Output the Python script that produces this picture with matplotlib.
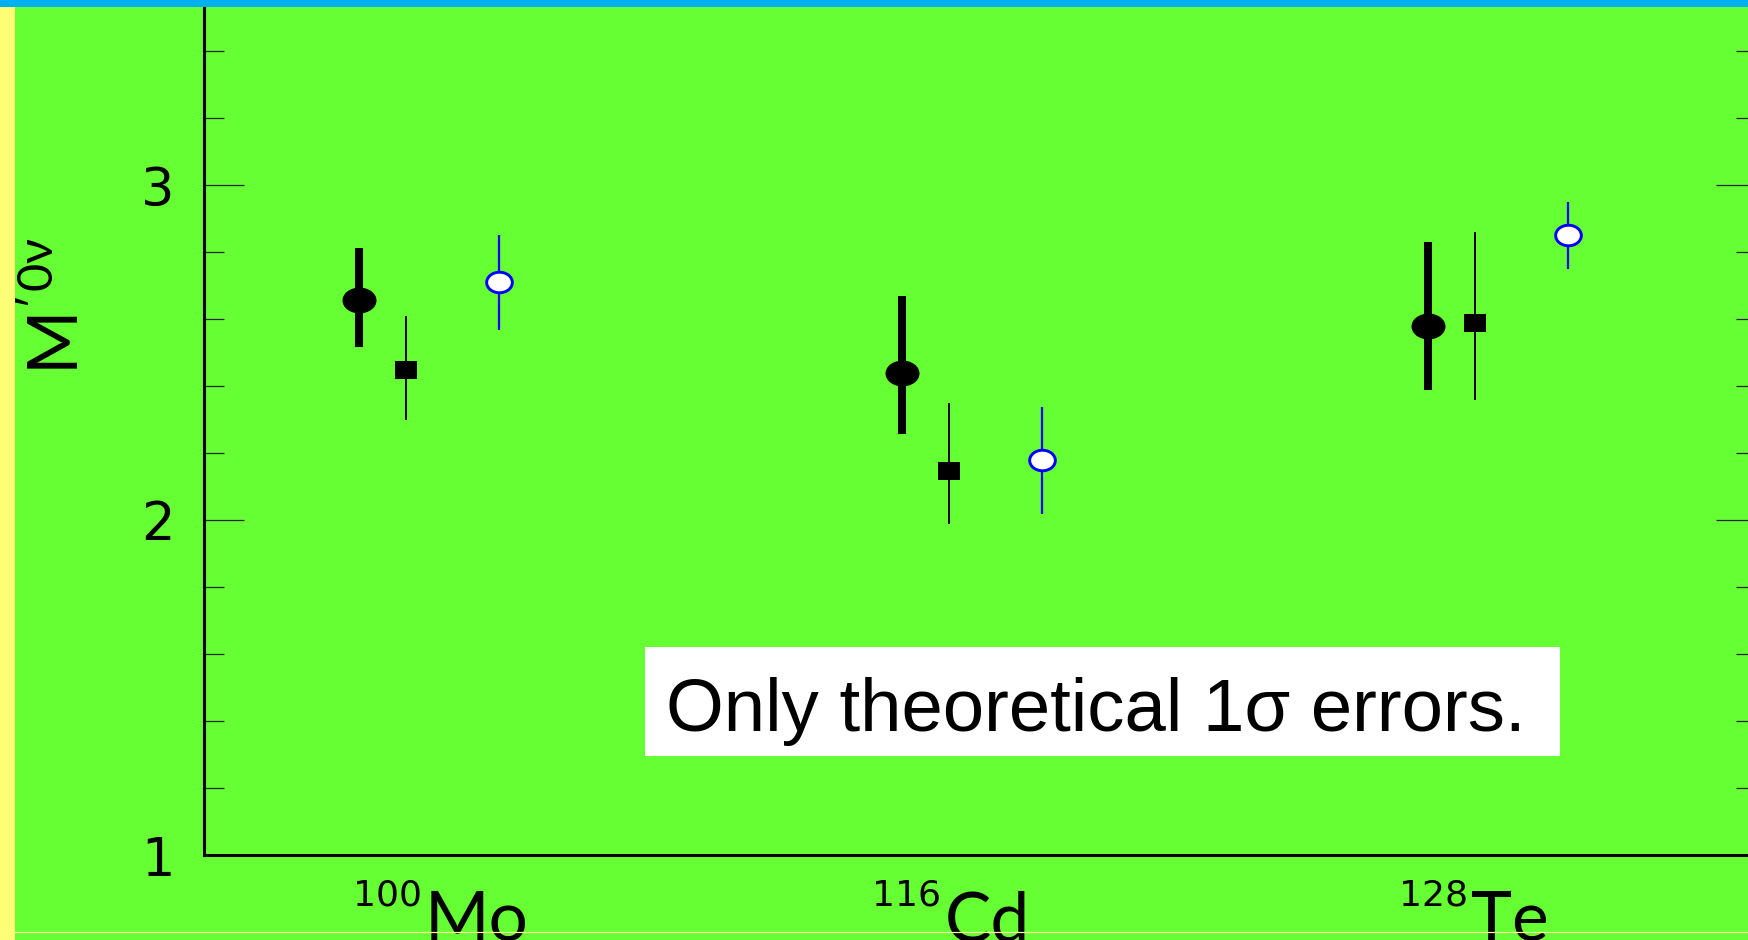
import numpy as np
import matplotlib
matplotlib.use("Agg")
import matplotlib.pyplot as plt
from matplotlib.path import Path
from matplotlib.markers import MarkerStyle
from matplotlib.patches import Rectangle
from matplotlib.transforms import Affine2D
from matplotlib.lines import Line2D

# ---------------- data ----------------
masses = ["100", "116", "128"]
elements = ["Mo", "Cd", "Te"]
group_x = [1.0, 2.015, 3.0]          # category positions
label_x = [1.123, 2.095, 3.080]      # element-symbol start positions

# series 1: filled ellipse, thick bars
s1_y = [2.657, 2.439, 2.579]
s1_lo = [0.141, 0.182, 0.191]
s1_hi = [0.155, 0.230, 0.251]
# series 2: filled rectangle, thin bars
s2_y = [2.448, 2.146, 2.588]
s2_lo = [0.149, 0.158, 0.230]
s2_hi = [0.161, 0.203, 0.272]
# series 3: open blue ellipse
s3_y = [2.710, 2.179, 2.851]
s3_lo = [0.143, 0.161, 0.102]
s3_hi = [0.141, 0.158, 0.098]

yticks = [1, 2, 3]
ylabels = ["1", "2", "3"]
yminor = [1.2, 1.4, 1.6, 1.8, 2.2, 2.4, 2.6, 2.8, 3.2, 3.4]
box_text = "Only theoretical 1σ errors."

# ---------------- style ----------------
GREEN = "#66FF33"
YELLOW = "#FFFF77"
BLUE_BAR = "#00B0F0"
W, H = 1749, 940

plt.rcParams['font.family'] = ['Lato', 'DejaVu Sans']
plt.rcParams['mathtext.fontset'] = 'dejavusans'

fig = plt.figure(figsize=(W / 100, H / 100), dpi=100)
fig.patch.set_facecolor(GREEN)

# left yellow strip, top blue bar, bottom thin line
fig.add_artist(Rectangle((0, 0), 15 / W, 1, transform=fig.transFigure,
                         facecolor=YELLOW, edgecolor='none', zorder=5))
fig.add_artist(Rectangle((0, 1 - 7 / H), 1, 7 / H, transform=fig.transFigure,
                         facecolor=BLUE_BAR, edgecolor='none', zorder=5))
fig.add_artist(Line2D([15 / W, 1], [1 - 932 / H] * 2, transform=fig.transFigure,
                      color="#FFFF99", lw=0.9, zorder=0.5))

ax = fig.add_axes([204 / W, 1 - 855 / H, (1756 - 204) / W, 855 / H])
ax.set_facecolor('none')

for side in ['left', 'bottom', 'right']:
    ax.spines[side].set_linewidth(2.2)
    ax.spines[side].set_color('black')
ax.spines['top'].set_visible(False)

ax.set_yticks(yticks)
ax.set_yticklabels(ylabels)
ax.set_yticks(yminor, minor=True)
ax.tick_params(axis='y', which='major', direction='in', length=29, width=0.9,
               color='#222222', left=True, right=True, labelsize=38, pad=21,
               labelcolor='black')
ax.tick_params(axis='y', which='minor', direction='in', length=14.5, width=0.9,
               color='#222222', left=True, right=True)
for t in ax.get_yticklabels():
    t.set_family(['DejaVu Sans'])
ax.set_xticks([])

# custom markers
circ = Path.unit_circle()
ell_path = circ.transformed(Affine2D().scale(1.0, 0.76))
rect_path = Path([(-1, -0.78), (1, -0.78), (1, 0.78), (-1, 0.78), (-1, -0.78)],
                 [Path.MOVETO, Path.LINETO, Path.LINETO, Path.LINETO, Path.CLOSEPOLY])
open_path = circ.transformed(Affine2D().scale(1.0, 0.80))

x1 = [g + 0.0 for g in group_x]
x2 = [g + 0.088 for g in group_x]
x3 = [g + 0.262 for g in group_x]

ax.errorbar(x1, s1_y, yerr=[s1_lo, s1_hi], fmt='none', ecolor='black',
            elinewidth=5.8, capsize=0, zorder=3)
ax.plot(x1, s1_y, linestyle='none', marker=MarkerStyle(ell_path), ms=24.5,
        mfc='black', mec='black', mew=0, zorder=4)

ax.errorbar(x2, s2_y, yerr=[s2_lo, s2_hi], fmt='none', ecolor='black',
            elinewidth=1.4, capsize=0, zorder=3)
ax.plot(x2, s2_y, linestyle='none', marker=MarkerStyle(rect_path), ms=16.3,
        mfc='black', mec='black', mew=0, zorder=4)

ax.errorbar(x3, s3_y, yerr=[s3_lo, s3_hi], fmt='none', ecolor='#0000FF',
            elinewidth=1.6, capsize=0, zorder=3)
ax.plot(x3, s3_y, linestyle='none', marker=MarkerStyle(open_path), ms=18.5,
        mfc='white', mec='#0000FF', mew=2.1, zorder=4)

ax.set_xlim(0.71, 3.613)
ax.set_ylim(1, 1 + 855 / 335)

# x category labels
trans = ax.get_xaxis_transform()
for lx, m, e in zip(label_x, masses, elements):
    ax.text(lx - 0.006, -(906 - 855) / 855, m, transform=trans, ha='right',
            va='baseline', fontsize=26, family=['DejaVu Sans'], clip_on=False)
    ax.text(lx, -(941 - 855) / 855, e, transform=trans, ha='left', va='baseline',
            fontsize=50, clip_on=False)

# y label
fig.text(57 / W, 1 - 306 / H, r"$\mathregular{M'^{0\nu}}$", rotation=90,
         ha='center', va='center', fontsize=50)

# white text box
fig.add_artist(Rectangle((645 / W, 1 - 756 / H), 915 / W, 109 / H,
                         transform=fig.transFigure, facecolor='white',
                         edgecolor='none', zorder=6))
fig.text(666 / W, 1 - 731 / H, box_text, ha='left', va='baseline', fontsize=53.6,
         family=['Liberation Sans', 'DejaVu Sans'], zorder=7)

fig.savefig("out.png", dpi=100, facecolor=fig.get_facecolor())
